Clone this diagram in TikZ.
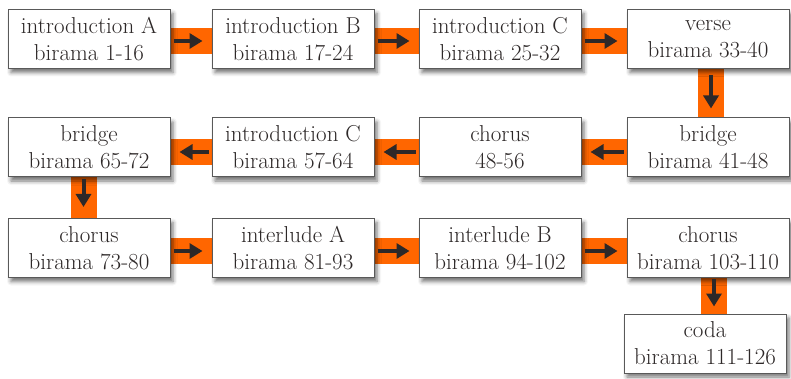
\documentclass[tikz,border=0pt]{standalone}
\usetikzlibrary{shadows.blur,arrows.meta,calc}
\definecolor{barc}{RGB}{255,102,0}
\definecolor{ink}{RGB}{45,40,40}
\begin{document}
\begin{tikzpicture}[x=1pt,y=-1pt,
 box/.style={draw=black!65, line width=1pt, fill=white, minimum width=162pt, minimum height=59pt, inner sep=0pt, align=center, text=ink, font=\fontsize{23}{27}\selectfont, blur shadow={shadow xshift=3pt, shadow yshift=-4pt, shadow blur radius=4pt, shadow opacity=55}},
 band/.style={barc, line width=26pt},
 arr/.style={ink, line width=4pt, -{Triangle[length=13pt,width=15pt]}}]
\useasboundingbox (0,0) rectangle (791,379);
% bands (behind boxes)
\coordinate (r1) at (0,41); \coordinate (r2) at (0,152); \coordinate (r3) at (0,251);
\coordinate (v1) at (711,0); \coordinate (v2) at (83.5,0); \coordinate (v3) at (714,0);
\draw[band] (89,41) -- (708,41);
\draw[band] (89,152) -- (708,152);
\draw[band] (89,251) -- (708,251);
\draw[band] (711,39) -- (711,147.5);
\draw[band] (83.5,147.5) -- (83.5,248);
\draw[band] (714,248) -- (714,343.5);
% boxes
\node[box] (a1) at (89,39) {introduction A\\birama 1-16};
\node[box] (a2) at (293,39) {introduction B\\birama 17-24};
\node[box] (a3) at (500,39) {introduction C\\birama 25-32};
\node[box] (a4) at (708,39) {verse\\birama 33-40};
\node[box] (b4) at (708,147.5) {bridge\\birama 41-48};
\node[box] (b3) at (500,147.5) {chorus\\48-56};
\node[box] (b2) at (293,147.5) {introduction C\\birama 57-64};
\node[box] (b1) at (89,147.5) {bridge\\birama 65-72};
\node[box] (c1) at (89,248) {chorus\\birama 73-80};
\node[box] (c2) at (293,248) {interlude A\\birama 81-93};
\node[box] (c3) at (500,248) {interlude B\\birama 94-102};
\node[box] (c4) at (708,248) {chorus\\birama 103-110};
\node[box] (d4) at (705,343.5) {coda\\birama 111-126};
% arrows
\draw[arr] ([xshift=3pt]a1.east |- r1) -- ([xshift=-9pt]a2.west |- r1);
\draw[arr] ([xshift=3pt]a2.east |- r1) -- ([xshift=-9pt]a3.west |- r1);
\draw[arr] ([xshift=3pt]a3.east |- r1) -- ([xshift=-9pt]a4.west |- r1);
\draw[arr] ([yshift=-6pt]a4.south -| v1) -- ([yshift=9pt]b4.north -| v1);
\draw[arr] ([xshift=-3pt]b4.west |- r2) -- ([xshift=9pt]b3.east |- r2);
\draw[arr] ([xshift=-3pt]b3.west |- r2) -- ([xshift=9pt]b2.east |- r2);
\draw[arr] ([xshift=-3pt]b2.west |- r2) -- ([xshift=9pt]b1.east |- r2);
\draw[arr] ([yshift=-2pt]b1.south -| v2) -- ([yshift=11pt]c1.north -| v2);
\draw[arr] ([xshift=3pt]c1.east |- r3) -- ([xshift=-9pt]c2.west |- r3);
\draw[arr] ([xshift=3pt]c2.east |- r3) -- ([xshift=-9pt]c3.west |- r3);
\draw[arr] ([xshift=3pt]c3.east |- r3) -- ([xshift=-9pt]c4.west |- r3);
\draw[arr] ([yshift=-1pt]c4.south -| v3) -- ([yshift=7pt]d4.north -| v3);
\end{tikzpicture}
\end{document}
